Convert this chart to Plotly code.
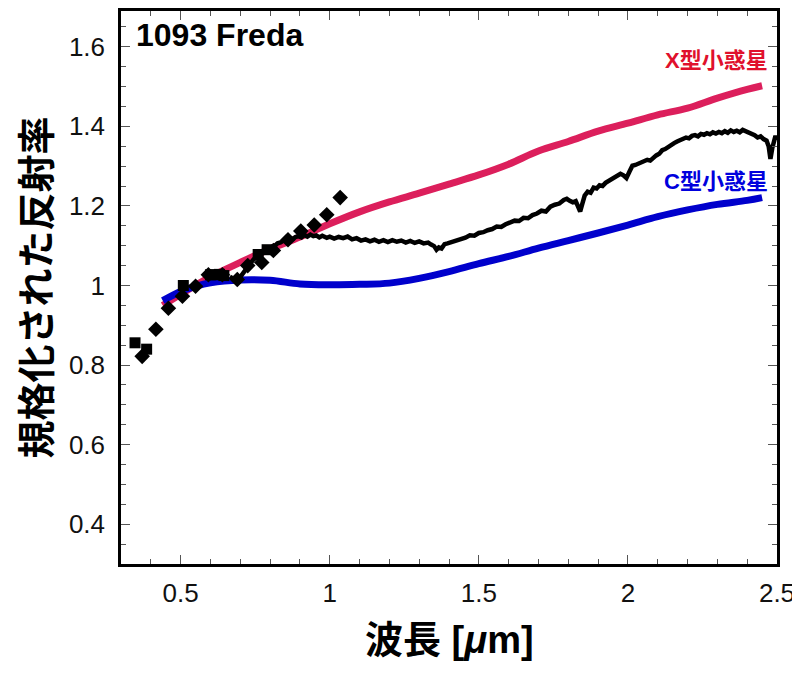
import plotly.graph_objects as go

# --- datos ---
x_tipo_wl = [0.44, 0.5, 0.6, 0.7, 0.8, 0.9, 1.0, 1.1, 1.2, 1.3, 1.4, 1.5, 1.6, 1.7,
             1.8, 1.9, 2.0, 2.1, 2.2, 2.3, 2.4, 2.45]
x_tipo_ref = [0.950, 0.978, 1.022, 1.058, 1.092, 1.122, 1.155, 1.185, 1.210, 1.232,
              1.255, 1.278, 1.305, 1.338, 1.362, 1.388, 1.408, 1.429, 1.446, 1.471,
              1.493, 1.502]

c_tipo_wl = [0.44, 0.5, 0.55, 0.6, 0.7, 0.8, 0.9, 1.0, 1.1, 1.2, 1.3, 1.4, 1.5, 1.6,
             1.7, 1.8, 1.9, 2.0, 2.1, 2.2, 2.3, 2.4, 2.45]
c_tipo_ref = [0.962, 0.985, 0.998, 1.007, 1.014, 1.013, 1.004, 1.002, 1.003, 1.006,
              1.018, 1.035, 1.055, 1.073, 1.094, 1.113, 1.132, 1.152, 1.173, 1.190,
              1.204, 1.214, 1.221]

# espectro visible (rombos)
vis_wl = [0.371, 0.417, 0.459, 0.506, 0.550, 0.593, 0.640, 0.690, 0.725, 0.772,
          0.811, 0.860, 0.903, 0.948, 0.990, 1.035]
vis_ref = [0.822, 0.890, 0.943, 0.973, 0.998, 1.027, 1.027, 1.015, 1.050, 1.058,
           1.088, 1.115, 1.137, 1.152, 1.178, 1.221]

# fotometría (cuadrados)
fot_wl = [0.347, 0.386, 0.509, 0.600, 0.615, 0.630, 0.645, 0.760, 0.790]
fot_ref = [0.856, 0.840, 1.000, 1.027, 1.027, 1.028, 1.025, 1.078, 1.090]

# espectro infrarrojo (línea negra, con ruido)
ir_wl = [0.665, 0.675, 0.685, 0.695, 0.705, 0.715, 0.725, 0.735, 0.745, 0.755, 0.765,
         0.775, 0.785, 0.795, 0.805, 0.815, 0.825, 0.835, 0.845, 0.855, 0.865, 0.875,
         0.885, 0.895, 0.905, 0.915, 0.925, 0.935, 0.945, 0.955, 0.965, 0.975, 0.99,
         1.0, 1.015, 1.03, 1.045, 1.06, 1.075, 1.09, 1.105, 1.12, 1.135, 1.15, 1.165,
         1.18, 1.195, 1.21, 1.225, 1.24, 1.255, 1.27, 1.285, 1.30, 1.315, 1.33, 1.34,
         1.35, 1.358, 1.366, 1.375, 1.385, 1.395, 1.41, 1.425, 1.44, 1.455, 1.47, 1.485,
         1.50, 1.515, 1.53, 1.545, 1.56, 1.575, 1.59, 1.605, 1.62, 1.635, 1.65, 1.665,
         1.68, 1.695, 1.71, 1.725, 1.74, 1.755, 1.77, 1.785, 1.795, 1.805, 1.815, 1.825,
         1.833, 1.840, 1.847, 1.855, 1.865, 1.875, 1.885, 1.895, 1.905, 1.915, 1.925,
         1.935, 1.945, 1.955, 1.965, 1.975, 1.985, 1.995, 2.005, 2.015, 2.025, 2.035,
         2.045, 2.055, 2.065, 2.075, 2.085, 2.095, 2.105, 2.115, 2.125, 2.135, 2.145,
         2.155, 2.165, 2.175, 2.185, 2.195, 2.205, 2.215, 2.225, 2.235, 2.245, 2.255,
         2.265, 2.275, 2.285, 2.295, 2.305, 2.315, 2.325, 2.335, 2.345, 2.355, 2.365,
         2.375, 2.385, 2.395, 2.405, 2.415, 2.425, 2.435, 2.445, 2.455, 2.465, 2.472,
         2.478, 2.484, 2.49, 2.495, 2.5]
ir_ref = [1.022, 1.018, 1.014, 1.016, 1.027, 1.040, 1.050, 1.057, 1.066, 1.070, 1.078,
          1.081, 1.088, 1.090, 1.096, 1.099, 1.106, 1.108, 1.113, 1.112, 1.118, 1.116,
          1.122, 1.124, 1.121, 1.127, 1.123, 1.128, 1.124, 1.126, 1.121, 1.125, 1.120,
          1.123, 1.118, 1.122, 1.119, 1.123, 1.116, 1.119, 1.113, 1.116, 1.111, 1.115,
          1.110, 1.114, 1.109, 1.114, 1.110, 1.113, 1.108, 1.112, 1.107, 1.111, 1.106,
          1.108, 1.103, 1.099, 1.090, 1.096, 1.093, 1.104, 1.106, 1.109, 1.113, 1.117,
          1.120, 1.126, 1.125, 1.132, 1.134, 1.139, 1.142, 1.148, 1.147, 1.154, 1.158,
          1.163, 1.162, 1.170, 1.169, 1.177, 1.181, 1.188, 1.186, 1.198, 1.203, 1.206,
          1.215, 1.218, 1.213, 1.209, 1.212, 1.200, 1.186, 1.205, 1.226, 1.236, 1.233,
          1.246, 1.244, 1.252, 1.250, 1.258, 1.262, 1.266, 1.271, 1.276, 1.281, 1.277,
          1.270, 1.286, 1.301, 1.303, 1.306, 1.310, 1.312, 1.316, 1.314, 1.322, 1.327,
          1.331, 1.340, 1.343, 1.349, 1.352, 1.358, 1.362, 1.366, 1.368, 1.372, 1.370,
          1.376, 1.378, 1.375, 1.381, 1.379, 1.383, 1.380, 1.385, 1.382, 1.386, 1.383,
          1.388, 1.384, 1.390, 1.386, 1.389, 1.385, 1.391, 1.388, 1.384, 1.381, 1.378,
          1.372, 1.375, 1.368, 1.364, 1.350, 1.318, 1.345, 1.368, 1.376, 1.366]

ROJO_LINEA = "#dc1f5c"
AZUL_LINEA = "#0000cc"
FUENTE = "Liberation Sans, Arial, Noto Sans CJK JP"

fig = go.Figure()
fig.add_trace(go.Scatter(x=x_tipo_wl, y=x_tipo_ref, mode="lines",
                         line=dict(color=ROJO_LINEA, width=7), line_shape="spline"))
fig.add_trace(go.Scatter(x=c_tipo_wl, y=c_tipo_ref, mode="lines",
                         line=dict(color=AZUL_LINEA, width=7), line_shape="spline"))
fig.add_trace(go.Scatter(x=ir_wl, y=ir_ref, mode="lines",
                         line=dict(color="black", width=4.5)))
fig.add_trace(go.Scatter(x=fot_wl, y=fot_ref, mode="markers",
                         marker=dict(symbol="square", size=11, color="black")))
fig.add_trace(go.Scatter(x=vis_wl, y=vis_ref, mode="markers",
                         marker=dict(symbol="diamond", size=12, color="black")))

eje = dict(
    showline=True, linecolor="black", linewidth=2.5, mirror="ticks",
    ticks="inside", ticklen=9, tickwidth=1, tickcolor="#555",
    showgrid=False, zeroline=False,
    tickfont=dict(family=FUENTE, size=26, color="#111"),
)

# la página deja 8 px de borde: se compensa en tamaño y márgenes
fig.update_layout(
    width=792, height=665,
    margin=dict(l=113, r=23, t=0, b=109),
    paper_bgcolor="white", plot_bgcolor="white",
    showlegend=False,
    xaxis=dict(eje, range=[0.3, 2.5], tickvals=[0.5, 1, 1.5, 2, 2.5],
               ticktext=["0.5", "1", "1.5", "2", "2.5"], ticklabelstandoff=4,
               minor=dict(dtick=0.1, tick0=0, ticks="inside", ticklen=5, tickcolor="#555")),
    yaxis=dict(eje, range=[0.3, 1.69], tickvals=[0.4, 0.6, 0.8, 1, 1.2, 1.4, 1.6],
               ticktext=["0.4", "0.6", "0.8", "1", "1.2", "1.4", "1.6"], ticklabelstandoff=8,
               minor=dict(dtick=0.05, tick0=0, ticks="inside", ticklen=5, tickcolor="#555")),
    annotations=[
        dict(x=0.345, y=1.63, xref="x", yref="y", text="<b>1093 Freda</b>",
             showarrow=False, xanchor="left", yanchor="middle",
             font=dict(family=FUENTE, size=32, color="black")),
        dict(x=2.478, y=1.5645, xref="x", yref="y", text="<b>X型小惑星</b>",
             showarrow=False, xanchor="right", yanchor="middle",
             font=dict(family=FUENTE, size=22, color="#e0102c")),
        dict(x=2.478, y=1.261, xref="x", yref="y", text="<b>C型小惑星</b>",
             showarrow=False, xanchor="right", yanchor="middle",
             font=dict(family=FUENTE, size=22, color="#0000dd")),
        dict(x=-0.1341, y=0.5, xref="paper", yref="paper", text="<b>規格化された反射率</b>",
             showarrow=False, textangle=-90, xanchor="center", yanchor="middle",
             font=dict(family="Noto Sans CJK JP", size=38, color="black")),
        dict(x=0.5, y=-0.1367, xref="paper", yref="paper", text="<b>波長 [<i>μ</i>m]</b>",
             showarrow=False, xanchor="center", yanchor="middle",
             font=dict(family="Liberation Sans, Noto Sans CJK JP", size=38, color="black")),
    ],
)

fig.write_html("out.html")
